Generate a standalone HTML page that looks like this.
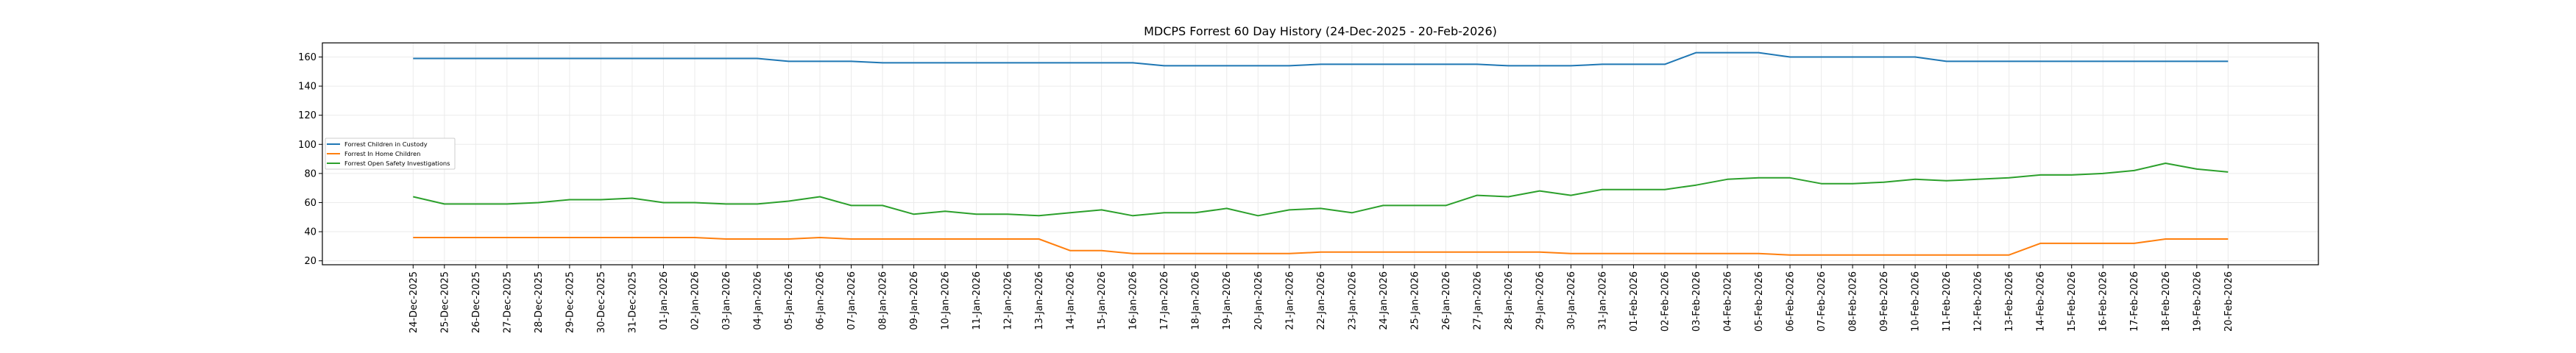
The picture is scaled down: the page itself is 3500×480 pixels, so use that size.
<!DOCTYPE html>
<html><head><meta charset="utf-8"><style>
html,body{margin:0;padding:0;background:#fff;}
svg{display:block;font-family:"DejaVu Sans","Liberation Sans",sans-serif;}
</style></head><body>
<svg id="chart" width="3500" height="480" viewBox="0 0 3500 480">
<rect x="0" y="0" width="3500" height="480" fill="#fff"/>
<text x="1794" y="48" font-size="16" text-anchor="middle" fill="#000">MDCPS Forrest 60 Day History (24-Dec-2025 - 20-Feb-2026)</text>
<g id="grid"></g><g id="series"></g><g id="axes"></g>
</svg>
<script>
const categories = ["24-Dec-2025","25-Dec-2025","26-Dec-2025","27-Dec-2025","28-Dec-2025","29-Dec-2025","30-Dec-2025","31-Dec-2025","01-Jan-2026","02-Jan-2026","03-Jan-2026","04-Jan-2026","05-Jan-2026","06-Jan-2026","07-Jan-2026","08-Jan-2026","09-Jan-2026","10-Jan-2026","11-Jan-2026","12-Jan-2026","13-Jan-2026","14-Jan-2026","15-Jan-2026","16-Jan-2026","17-Jan-2026","18-Jan-2026","19-Jan-2026","20-Jan-2026","21-Jan-2026","22-Jan-2026","23-Jan-2026","24-Jan-2026","25-Jan-2026","26-Jan-2026","27-Jan-2026","28-Jan-2026","29-Jan-2026","30-Jan-2026","31-Jan-2026","01-Feb-2026","02-Feb-2026","03-Feb-2026","04-Feb-2026","05-Feb-2026","06-Feb-2026","07-Feb-2026","08-Feb-2026","09-Feb-2026","10-Feb-2026","11-Feb-2026","12-Feb-2026","13-Feb-2026","14-Feb-2026","15-Feb-2026","16-Feb-2026","17-Feb-2026","18-Feb-2026","19-Feb-2026","20-Feb-2026"];
const custody = [159,159,159,159,159,159,159,159,159,159,159,159,157,157,157,156,156,156,156,156,156,156,156,156,154,154,154,154,154,155,155,155,155,155,155,154,154,154,155,155,155,163,163,163,160,160,160,160,160,157,157,157,157,157,157,157,157,157,157];
const inHome = [36,36,36,36,36,36,36,36,36,36,35,35,35,36,35,35,35,35,35,35,35,27,27,25,25,25,25,25,25,26,26,26,26,26,26,26,26,25,25,25,25,25,25,25,24,24,24,24,24,24,24,24,32,32,32,32,35,35,35];
const investigations = [64,59,59,59,60,62,62,63,60,60,59,59,61,64,58,58,52,54,52,52,51,53,55,51,53,53,56,51,55,56,53,58,58,58,65,64,68,65,69,69,69,72,76,77,77,73,73,74,76,75,76,77,79,79,80,82,87,83,81];
const yTicks = [20,40,60,80,100,120,140,160];
const seriesNames = ["Forrest Children in Custody","Forrest In Home Children","Forrest Open Safety Investigations"];
const seriesColors = ["#1f77b4","#ff7f0e","#2ca02c"];

const NS="http://www.w3.org/2000/svg";
const L=438,R=3150,T=58.3,B=360;
const yMin=17.3,yMax=169.7;
function xPos(i){return 561.3+i*(3027.3-561.3)/(categories.length-1);}
function yPos(v){return B-(v-yMin)/(yMax-yMin)*(B-T);}
function mk(tag,attrs,parent){const e=document.createElementNS(NS,tag);for(const k in attrs)e.setAttribute(k,attrs[k]);parent.appendChild(e);return e;}
const grid=document.getElementById('grid'),ser=document.getElementById('series'),axes=document.getElementById('axes');

categories.forEach((c,i)=>{
  const x=xPos(i);
  const g=mk('line',{x1:x,x2:x,y1:T,y2:B,stroke:'#ebebeb','stroke-width':1},grid);
  
  
  const t=mk('line',{x1:x,x2:x,y1:B,y2:B+5,stroke:'#000','stroke-width':1},axes);
  
  
  const lb=mk('text',{x:0,y:0,'font-size':13,'text-anchor':'end',transform:`translate(${x+4.5},${B+9}) rotate(-90)`,fill:'#000'},axes);
  lb.textContent=c;
  
  
});
yTicks.forEach(v=>{
  const y=yPos(v);
  const g=mk('line',{x1:L,x2:R,y1:y,y2:y,stroke:'#ebebeb','stroke-width':1},grid);
  
  
  const t=mk('line',{x1:L-5,x2:L,y1:y,y2:y,stroke:'#000','stroke-width':1},axes);
  
  
  const lb=mk('text',{x:L-8,y:y+4.5,'font-size':13,'text-anchor':'end',fill:'#000'},axes);
  lb.textContent=v;
  
  
});
const frame=mk('rect',{x:L,y:T,width:R-L,height:B-T,fill:'none',stroke:'#000','stroke-width':1.2},axes);



[custody,inHome,investigations].forEach((arr,k)=>{
  const pts=arr.map((v,i)=>xPos(i).toFixed(1)+','+yPos(v).toFixed(1)).join(' ');
  const p=mk('polyline',{points:pts,fill:'none',stroke:seriesColors[k],'stroke-width':2,'stroke-linejoin':'round'},ser);
  
  
});

const lg=mk('g',{},axes);


mk('rect',{x:442,y:188,width:176,height:42,fill:'#fff',stroke:'#cccccc','stroke-width':1,rx:1.5},lg);
seriesNames.forEach((n,k)=>{
  const y=196+k*13;
  const ln=mk('line',{x1:444,x2:462,y1:y,y2:y,stroke:seriesColors[k],'stroke-width':2},lg);
  
  
  const t=mk('text',{x:468,y:y+3,'font-size':8.3,fill:'#000'},lg);
  t.textContent=n;
  
  
});
</script>
</body></html>
